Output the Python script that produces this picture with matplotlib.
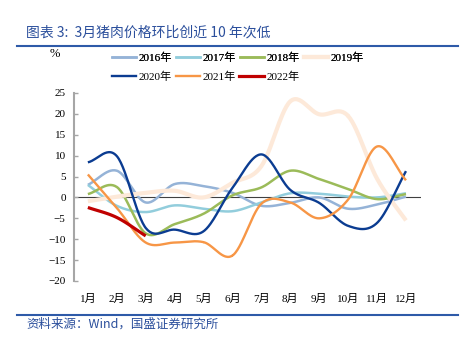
import numpy as np
import matplotlib
matplotlib.use('Agg')
import matplotlib.pyplot as plt
from matplotlib.lines import Line2D

plt.rcParams['font.family'] = ['Liberation Serif', 'Noto Sans CJK SC', 'DejaVu Sans']

# Monthly data (%, month-on-month)
months = ['1月', '2月', '3月', '4月', '5月', '6月',
          '7月', '8月', '9月', '10月', '11月', '12月']
y2016 = [3.0, 6.4, -1.2, 3.2, 2.7, 1.1, -2.0, -1.3, 0.0, -2.7, -1.7, 0.2]
y2017 = [3.0, -2.0, -3.5, -1.9, -2.7, -3.3, -1.2, 1.0, 0.9, 0.2, 0.0, 1.0]
y2018 = [0.8, 2.5, -8.6, -6.4, -3.9, 0.5, 2.4, 6.4, 4.4, 2.0, -0.4, 0.8]
y2019 = [-0.9, 0.2, 1.1, 1.6, 0.0, 3.5, 7.5, 23.0, 19.9, 19.5, 4.5, -5.5]
y2020 = [8.4, 9.9, -7.3, -7.7, -8.1, 2.3, 10.3, 1.8, -1.3, -6.8, -6.1, 6.3]
y2021 = [5.5, -2.5, -10.8, -10.8, -10.7, -13.9, -1.5, -1.2, -5.0, -0.5, 12.2, 4.1]
y2022 = [-2.4, -4.8, -9.2]

series = [('2016年', y2016, '#95B3D7', 1.8),
          ('2017年', y2017, '#92CDDC', 1.8),
          ('2018年', y2018, '#9BBB59', 1.8),
          ('2019年', y2019, '#FDE9D9', 3.0),
          ('2020年', y2020, '#0B3C91', 1.7),
          ('2021年', y2021, '#F79646', 1.7),
          ('2022年', y2022, '#C00000', 2.3)]

title_color = '#2B4F9C'


def smooth(x, y, n=30):
    # Catmull-Rom style smoothing, similar to Excel's smoothed lines
    x = np.asarray(x, float)
    y = np.asarray(y, float)
    if len(x) < 3:
        return x, y
    px = np.concatenate([[2 * x[0] - x[1]], x, [2 * x[-1] - x[-2]]])
    py = np.concatenate([[2 * y[0] - y[1]], y, [2 * y[-1] - y[-2]]])
    xs, ys = [], []
    t = np.linspace(0, 1, n)
    for i in range(1, len(px) - 2):
        p0, p1, p2, p3 = py[i - 1], py[i], py[i + 1], py[i + 2]
        q0, q1, q2, q3 = px[i - 1], px[i], px[i + 1], px[i + 2]
        ys.append(0.5 * ((2 * p1) + (-p0 + p2) * t + (2 * p0 - 5 * p1 + 4 * p2 - p3) * t ** 2
                         + (-p0 + 3 * p1 - 3 * p2 + p3) * t ** 3))
        xs.append(0.5 * ((2 * q1) + (-q0 + q2) * t + (2 * q0 - 5 * q1 + 4 * q2 - q3) * t ** 2
                         + (-q0 + 3 * q1 - 3 * q2 + q3) * t ** 3))
    return np.concatenate(xs), np.concatenate(ys)


fig = plt.figure(figsize=(4.61, 3.48), dpi=100)
fig.patch.set_facecolor('white')
ax = fig.add_axes([74 / 461, 1 - 281 / 348, (421 - 74) / 461, (281 - 93) / 348])

for name, vals, col, lw in series:
    xx = np.arange(1, len(vals) + 1)
    sx, sy = smooth(xx, vals)
    ax.plot(sx, sy, color=col, lw=lw, solid_capstyle='butt', label=name)

ax.axhline(0, color='#404040', lw=0.8, zorder=0)

ax.set_xlim(0.52, 12.52)
ax.set_ylim(-20, 25)
ax.set_yticks(np.arange(-20, 26, 5))
ax.set_xticks(np.arange(1, 13))
ax.set_xticklabels(months)
for s in ['top', 'right', 'bottom']:
    ax.spines[s].set_visible(False)
ax.spines['left'].set_color('#A6A6A6')
ax.spines['left'].set_linewidth(1.5)
ax.tick_params(axis='y', direction='in', length=3, width=1, color='#A6A6A6',
               labelsize=8, pad=6)
ax.tick_params(axis='x', length=0, labelsize=8, pad=9)

ax.text(-0.055, 1.21, '%', transform=ax.transAxes, fontsize=9, ha='center', va='center')

# legend, two rows
handles = [Line2D([], [], color=c, lw=lw) for _, _, c, lw in series]
labels = [n for n, _, _, _ in series]
leg_kw = dict(loc='center left', frameon=False, fontsize=8, handlelength=2.2,
              handletextpad=0.2, columnspacing=0.35, borderaxespad=0, borderpad=0)
leg = fig.legend(handles[:4], labels[:4], ncol=4,
                 bbox_to_anchor=(112 / 461, 1 - 58 / 348), **leg_kw)
leg2 = fig.legend(handles[4:], labels[4:], ncol=3,
                  bbox_to_anchor=(112 / 461, 1 - 77 / 348), **leg_kw)
fig.add_artist(leg)

# title and source
fig.text(26 / 461, 1 - 33 / 348, '图表 3:  3月猪肉价格环比创近 10 年次低',
         fontsize=10, color=title_color, ha='left', va='center',
         family=['Noto Sans CJK SC', 'DejaVu Sans'], style='italic')
fig.add_artist(Line2D([17 / 461, 458 / 461], [1 - 46 / 348, 1 - 46 / 348],
                      color='#2E5AA8', lw=1.5))
fig.add_artist(Line2D([17 / 461, 458 / 461], [1 - 315 / 348, 1 - 315 / 348],
                      color='#2E5AA8', lw=1.5))
fig.text(26 / 461, 1 - 324 / 348, '资料来源：Wind，国盛证券研究所',
         fontsize=9, color=title_color, ha='left', va='center',
         family=['Noto Sans CJK SC', 'DejaVu Sans'], style='italic')

plt.savefig('out.png', dpi=100)
